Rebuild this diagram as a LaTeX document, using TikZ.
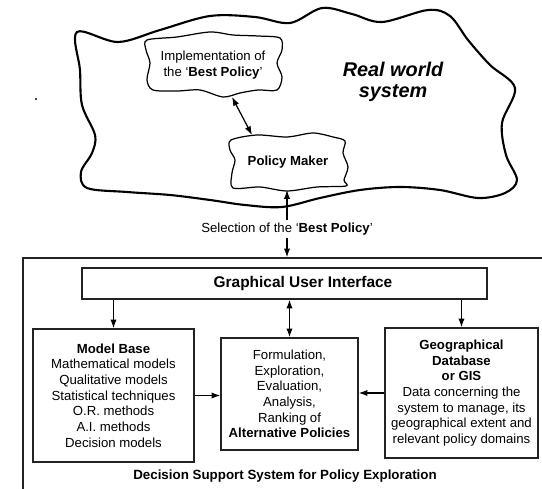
\documentclass[tikz,border=0pt]{standalone}
\usepackage{fontspec}
\setsansfont{Liberation Sans}
\usetikzlibrary{arrows.meta, positioning}
\definecolor{inkgrey}{RGB}{35, 35, 35}

\begin{document}
\begin{tikzpicture}[
    x=0.02cm, y=-0.02cm,
    font=\sffamily\fontsize{7.5}{8.9}\selectfont,
    bigline/.style={draw=black, line width=1.2pt},
    smallline/.style={draw=black, line width=0.7pt},
    box/.style={draw=inkgrey, line width=0.8pt, align=center, inner sep=0pt},
    label/.style={align=center, inner sep=1.5pt},
    arr/.style={-{Latex[length=5pt, width=3.6pt]}, line width=0.7pt},
    biarr/.style={{Latex[length=5pt, width=3.6pt]}-{Latex[length=5pt, width=3.6pt]}, line width=0.7pt}
]
    \clip (0,0) rectangle (542,489);

    % real world cloud
    \draw[bigline] plot[smooth cycle, tension=0.55] coordinates {
        (77,32) (118,42) (160,30) (210,16) (255,17) (290,23) (322,8) (352,14)
        (382,22) (428,10) (450,16) (468,40) (490,65) (515,88) (502,123) (506,155)
        (517,180) (505,193) (478,198) (440,190) (400,187) (360,190) (320,198) (282,207)
        (245,205) (210,200) (170,195) (127,192) (87,188) (81,172) (92,153) (95,135)
        (82,105) (80,70)};
    \fill (36,99) circle (1.1);
    \node[font=\sffamily\bfseries\itshape\fontsize{11.3}{11.6}\selectfont, align=center] (rws) at (393,82) {Real world\\system};

    % implementation cloud
    \draw[smallline] plot[smooth cycle, tension=0.5] coordinates {
        (147,40) (177,37) (210,32) (233,35) (258,36) (280,38) (282,50) (277,63)
        (282,77) (277,90) (258,90) (240,93) (223,97) (200,90) (177,91) (153,90)
        (147,80) (150,63) (146,50)};
    \node[label] (impl) at (213,65) {Implementation of\\the `\textbf{Best Policy}'};

    % policy maker cloud
    \draw[smallline] plot[smooth cycle, tension=0.5] coordinates {
        (231,140) (257,135) (287,137) (313,133) (333,137) (345,141) (343,153)
        (348,167) (344,180) (346,186) (317,187) (287,191) (260,187) (233,188)
        (232,173) (235,160) (230,150)};
    \node[label, font=\sffamily\bfseries\fontsize{7.5}{8.9}\selectfont] (pm) at (288,162) {Policy Maker};

    \coordinate (impl-s) at (232,97);
    \coordinate (pm-n) at (252,135);
    \coordinate (pm-s) at (287,190);
    \draw[biarr] (impl-s) -- (pm-n);

    \node[label] (sel) at (287,229) {Selection of the `\textbf{Best Policy}'};

    % decision support system
    \node[box, minimum width=10.74cm, minimum height=5.04cm] (dss) at (291.5,384) {};
    \node[label, font=\sffamily\bfseries\fontsize{7.6}{8.9}\selectfont] (dsslabel) at (285,476) {Decision Support System for Policy Exploration};

    \node[box, minimum width=8.1cm, minimum height=0.62cm] (gui) at (284.5,283.5) {};
    \node[label, font=\sffamily\bfseries\fontsize{8.8}{10}\selectfont] (guilabel) at (303,283.5) {Graphical User Interface};

    \node[box, minimum width=3.22cm, minimum height=2.66cm] (mb) at (113.5,395.5)
        {\textbf{Model Base}\\Mathematical models\\Qualitative models\\Statistical techniques\\O.R. methods\\A.I. methods\\Decision models};
    \node[box, minimum width=2.74cm, minimum height=2.24cm] (alt) at (289.5,394)
        {Formulation,\\Exploration,\\Evaluation,\\Analysis,\\Ranking of\\\textbf{Alternative Policies}};
    \node[box, minimum width=3.06cm, minimum height=2.6cm] (geo) at (461.5,393)
        {\textbf{Geographical}\\\textbf{Database}\\\textbf{or GIS}\\Data concerning the\\system to manage, its\\geographical extent and\\relevant policy domains};

    \draw[arr] (sel.north) -- (pm-s);
    \draw[arr] (sel.south) -- (sel.south |- dss.north);
    \draw[arr] (gui.south -| mb.north) -- (mb.north);
    \draw[biarr] (gui.south -| alt.north) -- (alt.north);
    \draw[arr] (gui.south -| geo.north) -- (geo.north);
    \draw[arr] (mb.east) -- (mb.east -| alt.west);
    \draw[arr] (geo.west) -- (geo.west -| alt.east);
\end{tikzpicture}
\end{document}
